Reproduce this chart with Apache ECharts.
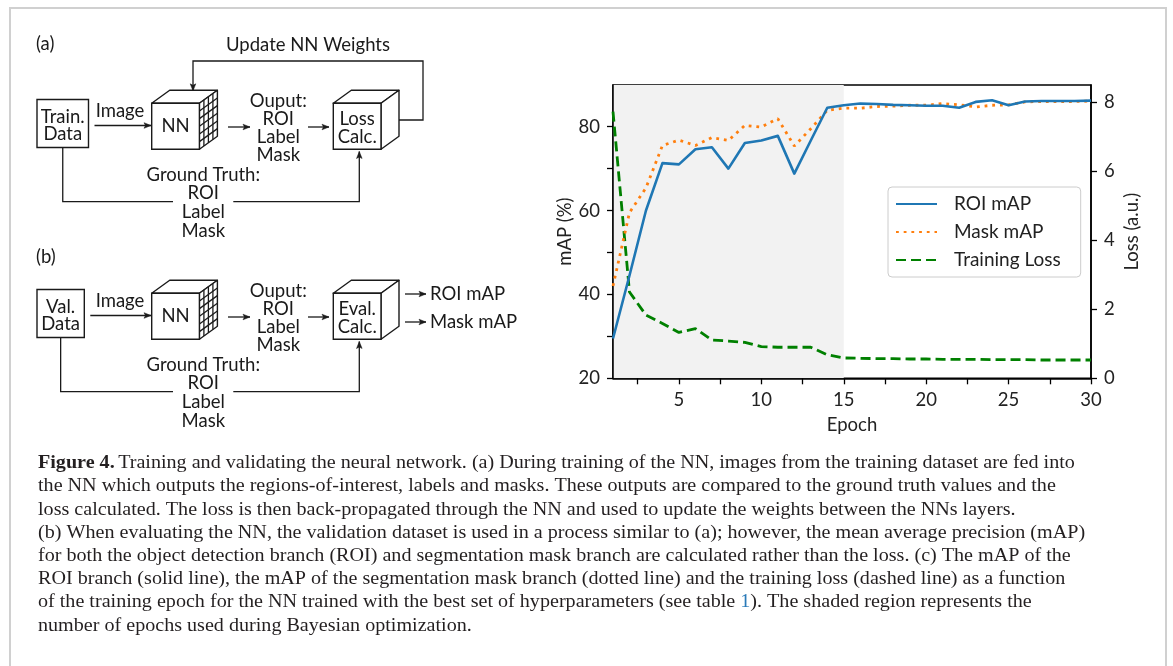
<!DOCTYPE html>
<html><head><meta charset="utf-8">
<script src="https://cdn.jsdelivr.net/npm/echarts@6/dist/echarts.min.js"></script>
<style>html,body{margin:0;padding:0;background:#fff}#c{width:1173px;height:666px}</style>
</head><body><div id="c"></div>
<script>
// ---------- data ----------
const epochs = [1,2,3,4,5,6,7,8,9,10,11,12,13,14,15,16,17,18,19,20,21,22,23,24,25,26,27,28,29,30];
const roiMAP = [29.5,44.5,60.0,71.3,71.0,74.6,75.1,70.0,76.1,76.7,77.8,68.8,76.7,84.5,85.1,85.5,85.4,85.2,85.1,85.0,85.0,84.5,85.9,86.3,85.1,86.0,86.1,86.1,86.1,86.2];
const maskMAP = [42.0,59.5,65.4,75.5,76.8,75.5,77.4,76.7,80.3,79.9,81.9,75.4,79.5,83.9,84.4,84.4,84.8,84.9,85.1,85.1,85.5,85.2,84.7,85.1,85.2,85.9,86.0,86.0,86.0,86.1];
const trainingLoss = [7.73,2.50,1.83,1.59,1.33,1.44,1.11,1.08,1.04,0.92,0.90,0.90,0.90,0.68,0.59,0.58,0.57,0.57,0.56,0.56,0.55,0.55,0.55,0.54,0.54,0.54,0.53,0.53,0.53,0.53];
const seriesNames = ['ROI mAP','Mask mAP','Training Loss'];
const xTickValues = [2.5,5,7.5,10,12.5,15,17.5,20,22.5,25,27.5,30];
const xTickLabels = [5,10,15,20,25,30];
const mapTickValues = [20,30,40,50,60,70,80];
const mapTickLabels = [20,40,60,80];
const lossTickLabels = [0,2,4,6,8];
const shadedEpochs = [1,15];
const captionLines = [
  'Training and validating the neural network. (a) During training of the NN, images from the training dataset are fed into',
  'the NN which outputs the regions-of-interest, labels and masks. These outputs are compared to the ground truth values and the',
  'loss calculated. The loss is then back-propagated through the NN and used to update the weights between the NNs layers.',
  '(b) When evaluating the NN, the validation dataset is used in a process similar to (a); however, the mean average precision (mAP)',
  'for both the object detection branch (ROI) and segmentation mask branch are calculated rather than the loss. (c) The mAP of the',
  'ROI branch (solid line), the mAP of the segmentation mask branch (dotted line) and the training loss (dashed line) as a function',
  'of the training epoch for the NN trained with the best set of hyperparameters (see table ',
  'number of epochs used during Bayesian optimization.'
];

// ---------- diagram helpers ----------
const FONT = 'Lato';
const INK = '#1a1a1a';
const G = [];
function txt(x, y, s, align, size) {
  G.push({type:'text', x:x, y:y, style:{text:s, fill:INK, font:(size||18.5)+'px '+FONT, textAlign:align||'center', textVerticalAlign:'middle'}});
}
function line(pts) {
  G.push({type:'polyline', shape:{points:pts}, style:{stroke:INK, lineWidth:1.3, fill:null}});
}
function head(x, y, dir) {
  const L = 7, W = 2.8;
  let p;
  if (dir === 'r') p = [[x,y],[x-L,y-W],[x-L+1.5,y],[x-L,y+W]];
  if (dir === 'd') p = [[x,y],[x-W,y-L],[x,y-L+1.5],[x+W,y-L]];
  if (dir === 'u') p = [[x,y],[x-W,y+L],[x,y+L-1.5],[x+W,y+L]];
  G.push({type:'polygon', shape:{points:p}, style:{fill:INK, stroke:INK, lineWidth:0.5}});
}
function arrow(pts, dir) {
  line(pts);
  const e = pts[pts.length-1];
  head(e[0], e[1], dir);
}
function box(x, y, w, h) {
  G.push({type:'rect', shape:{x:x, y:y, width:w, height:h}, style:{stroke:INK, lineWidth:1.4, fill:'#fff'}});
}
function cube(x, y, w, h, dx, dy, grid) {
  const st = {stroke:INK, lineWidth:1.4, fill:'#fff', lineJoin:'round'};
  G.push({type:'polygon', shape:{points:[[x,y],[x+w,y],[x+w+dx,y+dy],[x+dx,y+dy]]}, style:st});
  G.push({type:'polygon', shape:{points:[[x+w,y],[x+w+dx,y+dy],[x+w+dx,y+h+dy],[x+w,y+h]]}, style:st});
  if (grid) {
    const cols = 4, rows = 6;
    for (let i = 1; i < cols; i++) {
      const f = i/cols;
      line([[x+w+dx*f, y+dy*f],[x+w+dx*f, y+h+dy*f]]);
    }
    for (let j = 1; j < rows; j++) {
      const yy = y + h*j/rows;
      line([[x+w, yy],[x+w+dx, yy+dy]]);
    }
  }
  box(x, y, w, h);
}
const DX = 18, DY = -13, CW = 47.7, CH = 46;
function panel(oy, srcTop, srcBot, srcW, midTop, midBot) {
  box(37, 99.5+oy, srcW, 48);
  txt(37+srcW/2, 116.7+oy, srcTop);
  txt(37+srcW/2, 134.3+oy, srcBot);
  arrow([[37+srcW+6, 125.5+oy],[151, 125.5+oy]], 'r');
  txt(120, 111+oy, 'Image');
  cube(151.7, 103.3+oy, CW, CH, DX, DY, true);
  txt(175.6, 126.5+oy, 'NN');
  arrow([[228,127+oy],[250,127+oy]], 'r');
  txt(278.3, 100.7+oy, 'Ouput:');
  txt(278.3, 119+oy, 'ROI');
  txt(278.3, 137.3+oy, 'Label');
  txt(278.3, 155+oy, 'Mask');
  arrow([[308,127+oy],[329,127+oy]], 'r');
  cube(333.3, 103.3+oy, CW, CH, DX, DY, false);
  txt(357.2, 119+oy, midTop);
  txt(357.2, 136.7+oy, midBot);
  const gx = 37+srcW/2;
  line([[gx,147.5+oy],[gx,201.7+oy],[173,201.7+oy]]);
  arrow([[233.3,201.7+oy],[359.3,201.7+oy],[359.3,151.5+oy]], 'u');
  txt(203.3, 175+oy, 'Ground Truth:');
  txt(203.3, 193.3+oy, 'ROI');
  txt(203.3, 212.5+oy, 'Label');
  txt(203.3, 231+oy, 'Mask');
}
// panel (a)
txt(36, 44, '(a)', 'left');
txt(308, 45, 'Update NN Weights');
arrow([[333.3+CW+DX, 120],[423,120],[423,61],[193,61],[193,103.3+DY+0.5]], 'd');
panel(0, 'Train.', 'Data', 51.5, 'Loss', 'Calc.');
// panel (b)
txt(36, 257, '(b)', 'left');
panel(190, 'Val.', 'Data', 47.3, 'Eval.', 'Calc.');
arrow([[333.3+CW+DX+6, 294],[426, 294]], 'r');
arrow([[333.3+CW+DX+6, 322],[426, 322]], 'r');
txt(430, 294, 'ROI mAP', 'left');
txt(430, 322, 'Mask mAP', 'left');
// (c) label
txt(626, 103, '(c)', 'left', 19);

// caption
const capFont = 'Liberation Serif';
const capSize = 19.5;
const capTop = 463, capStep = 23.2;
captionLines.forEach(function(s, i){
  let rich;
  if (i === 0) rich = '{b|Figure 4.} {n|' + s + '}';
  else if (i === 6) rich = '{n|' + s + '}{l|1}{n|). The shaded region represents the}';
  else rich = '{n|' + s + '}';
  G.push({type:'text', x:38, y:capTop + i*capStep, scaleX:1.031, style:{
    text: rich, textVerticalAlign:'middle', textAlign:'left',
    rich:{
      b:{fontFamily:capFont, fontSize:capSize, fontWeight:'bold', fill:'#231f20'},
      n:{fontFamily:capFont, fontSize:capSize, fill:'#231f20'},
      l:{fontFamily:capFont, fontSize:capSize, fill:'#2a7ab8'}
    }}});
});
// frame
G.push({type:'rect', shape:{x:10, y:8, width:1156, height:700}, style:{stroke:'#d0d0d0', lineWidth:2, fill:null}, z:-1});

// ---------- chart ----------
const chart = echarts.init(document.getElementById('c'), null, {renderer:'canvas'});
const axisLineStyle = {color:'#000', width:1.5};
const labelStyle = {fontFamily:FONT, fontSize:18.5, color:'#222'};
const option = {
  animation:false,
  backgroundColor:'#fff',
  textStyle:{fontFamily:FONT},
  grid:{left:613, top:85, width:478, height:293.3, show:true, borderColor:'#000', borderWidth:1.5, backgroundColor:'transparent'},
  legend:{
    data:seriesNames, orient:'vertical', left:888, top:187,
    itemWidth:41, itemHeight:14, itemGap:6,
    padding:[6,20,6,7],
    itemStyle:{opacity:0},
    borderColor:'#cccccc', borderWidth:1, borderRadius:4,
    backgroundColor:'rgba(255,255,255,0.85)',
    textStyle:{fontFamily:FONT, fontSize:19, color:'#222', lineHeight:22, padding:[0,0,0,12]}
  },
  xAxis:{
    type:'value', min:epochs[0], max:epochs[epochs.length-1],
    name:'Epoch', nameLocation:'middle', nameGap:37,
    nameTextStyle:{fontFamily:FONT, fontSize:18.5, color:'#222'},
    axisLine:{lineStyle:axisLineStyle},
    axisTick:{show:true, length:6, inside:false, lineStyle:{color:'#000', width:1.3}, customValues:xTickValues},
    axisLabel:Object.assign({margin:12, customValues:xTickLabels}, labelStyle),
    splitLine:{show:false}
  },
  yAxis:[{
    type:'value', min:mapTickValues[0], max:89.93, position:'left',
    name:'mAP (%)', nameLocation:'middle', nameGap:38, nameRotate:90,
    nameTextStyle:{fontFamily:FONT, fontSize:18.5, color:'#222'},
    axisLine:{show:true, lineStyle:axisLineStyle},
    axisTick:{show:true, length:6, inside:false, lineStyle:{color:'#000', width:1.3}, customValues:mapTickValues},
    axisLabel:Object.assign({margin:13, customValues:mapTickLabels}, labelStyle),
    splitLine:{show:false}
  },{
    type:'value', min:0, max:8.5, position:'right',
    name:'Loss (a.u.)', nameLocation:'middle', nameGap:32, nameRotate:90,
    nameTextStyle:{fontFamily:FONT, fontSize:18.5, color:'#222'},
    axisLine:{show:true, lineStyle:axisLineStyle},
    axisTick:{show:true, length:6, inside:false, lineStyle:{color:'#000', width:1.3}, customValues:lossTickLabels},
    axisLabel:Object.assign({margin:13, customValues:lossTickLabels}, labelStyle),
    splitLine:{show:false}
  }],
  series:[{
    name:seriesNames[0], type:'line', yAxisIndex:0, symbol:'none', showSymbol:false,
    data:epochs.map(function(e,i){return [e, roiMAP[i]];}),
    lineStyle:{color:'#1f77b4', width:2.6, join:'round'}, itemStyle:{color:'#1f77b4'}, z:4,
    markArea:{silent:true, itemStyle:{color:'#f2f2f2'}, data:[[{xAxis:shadedEpochs[0]},{xAxis:shadedEpochs[1]}]], z:0}
  },{
    name:seriesNames[1], type:'line', yAxisIndex:0, symbol:'none', showSymbol:false,
    data:epochs.map(function(e,i){return [e, maskMAP[i]];}),
    lineStyle:{color:'#ff7f0e', width:2.8, type:[2.8,4.9], cap:'butt'}, itemStyle:{color:'#ff7f0e'}, z:3
  },{
    name:seriesNames[2], type:'line', yAxisIndex:1, symbol:'none', showSymbol:false,
    data:epochs.map(function(e,i){return [e, trainingLoss[i]];}),
    lineStyle:{color:'#008000', width:2.8, type:[10,5], cap:'butt'}, itemStyle:{color:'#008000'}, z:2
  }],
  graphic:G
};
chart.setOption(option);
</script>
</body></html>
